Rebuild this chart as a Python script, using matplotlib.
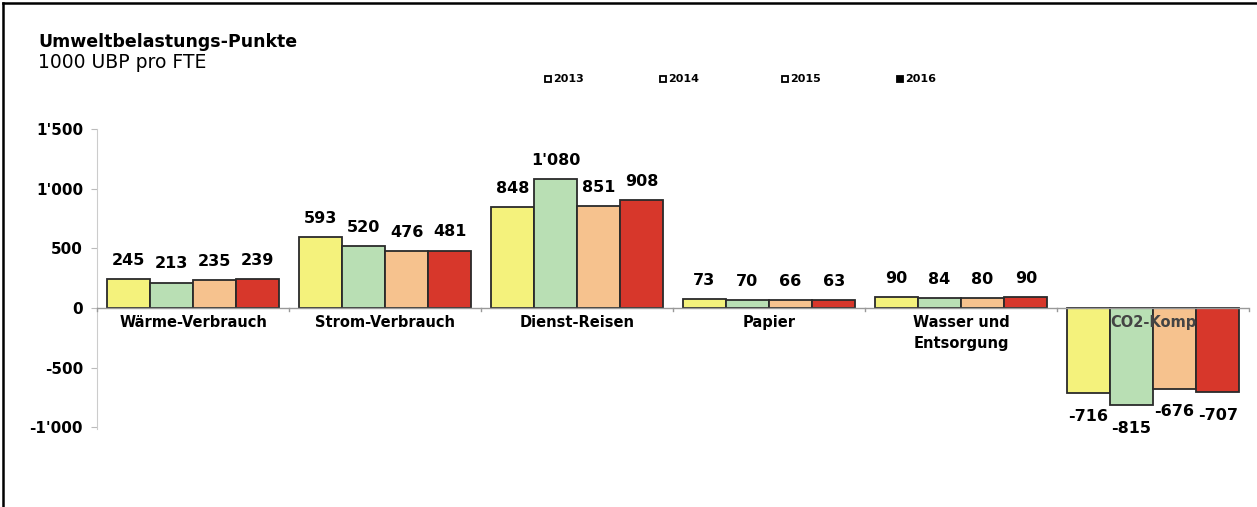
import matplotlib
matplotlib.use("Agg")
import matplotlib.pyplot as plt
import numpy as np
from matplotlib.lines import Line2D

categories = ["Wärme-Verbrauch", "Strom-Verbrauch", "Dienst-Reisen", "Papier",
              "Wasser und\nEntsorgung", "CO2-Komp"]
years = ["2013", "2014", "2015", "2016"]
values_2013 = [245, 593, 848, 73, 90, -716]
values_2014 = [213, 520, 1080, 70, 84, -815]
values_2015 = [235, 476, 851, 66, 80, -676]
values_2016 = [239, 481, 908, 63, 90, -707]
series = [values_2013, values_2014, values_2015, values_2016]
colors = ["#f4f27c", "#b9dfb4", "#f6c28e", "#d7372b"]
y_ticks = [-1000, -500, 0, 500, 1000, 1500]


def fmt(v):
    s = f"{abs(v):,}".replace(",", "'")
    return ("-" if v < 0 else "") + s


plt.rcParams["font.family"] = ["DejaVu Sans"]

fig = plt.figure(figsize=(12.57, 5.07), dpi=100)
ax = fig.add_axes([97 / 1257, 1 - 428.5 / 507, 1152 / 1257, (428.5 - 129) / 507])

x = np.arange(len(categories))
w = 0.225
for i, vals in enumerate(series):
    pos = x + (i - 1.5) * w
    ax.bar(pos, vals, width=w, color=colors[i], edgecolor="#2a2a2a", linewidth=1.3, zorder=2)
    for p, v in zip(pos, vals):
        if v >= 0:
            ax.annotate(fmt(v), (p, v), xytext=(0, 8), textcoords="offset points",
                        ha="center", va="bottom", fontsize=11.5, fontweight="bold")
        else:
            ax.annotate(fmt(v), (p, v), xytext=(0, -11), textcoords="offset points",
                        ha="center", va="top", fontsize=11.5, fontweight="bold")

ax.set_xlim(-0.5, len(categories) - 0.5)
ax.set_ylim(-1010, 1500)
ax.set_yticks(y_ticks)
ax.set_yticklabels([fmt(t) for t in y_ticks], fontsize=11, fontweight="bold")
ax.tick_params(axis="y", length=4, color="#bbbbbb", pad=6)

# zero line as category axis
ax.axhline(0, color="#999999", linewidth=1.0, zorder=3)
ax.set_xticks([])
for b in np.arange(-0.5, len(categories), 1.0):
    ax.plot([b, b], [0, -25], color="#999999", linewidth=1.0, clip_on=False, zorder=3)
for xi, cat in zip(x, categories):
    col = "#444444" if cat.startswith("CO2") else "black"
    ax.text(xi, -55, cat, ha="center", va="top", fontsize=10.5, fontweight="bold",
            color=col, zorder=5, linespacing=1.5)

for s in ["top", "right", "bottom"]:
    ax.spines[s].set_visible(False)
ax.spines["left"].set_color("#cccccc")

# titles
fig.text(38 / 1257, 1 - 42 / 507, "Umweltbelastungs-Punkte", fontsize=12.5,
         fontweight="bold", va="center", ha="left")
fig.text(38 / 1257, 1 - 63 / 507, "1000 UBP pro FTE", fontsize=13.5,
         va="center", ha="left")

# legend
leg_x = [548, 663, 785, 900]
for lx, yr, i in zip(leg_x, years, range(4)):
    fc = "black" if i == 3 else "white"
    fig.add_artist(Line2D([lx / 1257], [1 - 79 / 507], marker="s", markersize=5,
                          markerfacecolor=fc, markeredgecolor="black", markeredgewidth=1.3,
                          linestyle="none", transform=fig.transFigure))
    fig.text((lx + 5) / 1257, 1 - 79 / 507, yr, fontsize=8, fontweight="bold",
             va="center", ha="left")

# outer frame (left and top edges)
fig.add_artist(Line2D([3 / 1257, 3 / 1257], [0, 1 - 3 / 507], color="black",
                      linewidth=1.8, transform=fig.transFigure))
fig.add_artist(Line2D([3 / 1257, 1], [1 - 3 / 507, 1 - 3 / 507], color="black",
                      linewidth=1.8, transform=fig.transFigure))

fig.savefig("out.png", dpi=100)
